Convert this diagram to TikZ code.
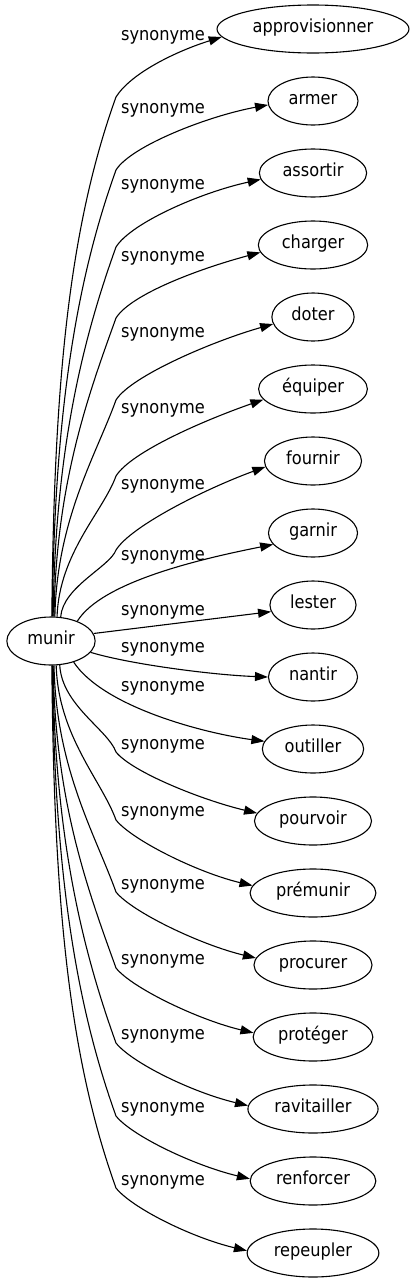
\documentclass[tikz,border=0pt]{standalone}
\usepackage{fontspec}
\setmainfont{DejaVu Sans Condensed}
\usetikzlibrary{arrows.meta, shapes.geometric}

\begin{document}
\begin{tikzpicture}[
  x=1pt, y=-1pt,
  font=\fontsize{18}{22}\selectfont,
  word/.style={draw, ellipse, line width=1.1pt, inner xsep=7.5pt,
    inner ysep=0pt, minimum height=48pt, text height=0.8em, text depth=0.15em},
  rel/.style={inner sep=0pt, text height=0.8em, text depth=0.15em},
  link/.style={line width=1.1pt, -{Triangle[length=13pt, width=9pt]}}
]
  \useasboundingbox[fill=white] (0,0) rectangle (410,1283);

  % Source word
  \node[word] (munir) at (51,641) {munir};

  % Synonyms
  \node[word] (approvisionner) at (313,29) {approvisionner};
  \node[word] (armer) at (313,101) {armer};
  \node[word] (assortir) at (313,173) {assortir};
  \node[word] (charger) at (313,245) {charger};
  \node[word] (doter) at (313,317) {doter};
  \node[word] (equiper) at (313,389) {équiper};
  \node[word] (fournir) at (313,461) {fournir};
  \node[word] (garnir) at (313,533) {garnir};
  \node[word] (lester) at (313,605) {lester};
  \node[word] (nantir) at (313,677) {nantir};
  \node[word] (outiller) at (313,749) {outiller};
  \node[word] (pourvoir) at (313,821) {pourvoir};
  \node[word] (premunir) at (313,893) {prémunir};
  \node[word] (procurer) at (313,965) {procurer};
  \node[word] (proteger) at (313,1037) {protéger};
  \node[word] (ravitailler) at (313,1109) {ravitailler};
  \node[word] (renforcer) at (313,1181) {renforcer};
  \node[word] (repeupler) at (313,1253) {repeupler};

  % Edge labels
  \foreach \i/\ly in {1/37, 2/110, 3/186, 4/258, 5/334, 6/410, 7/486, 8/557,
    9/612, 10/649, 11/688, 12/746, 13/813, 14/886, 15/961, 16/1036,
    17/1109, 18/1182} {
    \node[rel] (syn\i) at (163,\ly) {synonyme};
  }

  % Upper edges
  \foreach \tgt/\sa/\by/\ea/\dx/\dy in {approvisionner/88/97/185/-45/14,
    armer/87/170/185/-60/11, assortir/85/247/187/-60/13,
    charger/83/318/188/-60/16, doter/81/400/190/-60/17,
    equiper/76/476/192/-60/21, fournir/68/550/187/-60/22} {
    \pgfmathsetmacro\len{617-\by}
    \draw[link] (munir.\sa) .. controls +(2,{-0.45*\len})
      and +({-0.09*\len},{0.25*\len}) .. (116,\by)
      .. controls +(15,-24) and +(\dx,\dy) .. (\tgt.\ea);
  }

  % Middle edges
  \draw[link] (munir.37) .. controls +(25,-40) and +(-70,14) .. (garnir.196);
  \draw[link] (munir.10) -- (lester.189);
  \draw[link] (munir.344) .. controls +(40,12) and +(-55,-2) .. (nantir.180);
  \draw[link] (munir.317) .. controls +(30,45) and +(-60,-8) .. (outiller.171);

  % Lower edges
  \foreach \tgt/\sa/\by/\ea in {pourvoir/290/752/172, premunir/282/820/173,
    procurer/277/892/173, proteger/275/968/176, ravitailler/274/1043/177,
    renforcer/273/1116/178, repeupler/272/1188/178} {
    \pgfmathsetmacro\len{\by-663}
    \draw[link] (munir.\sa) .. controls +(2,{0.45*\len})
      and +({-0.09*\len},{-0.25*\len}) .. (116,\by)
      .. controls +(16,20) and +(-55,-13) .. (\tgt.\ea);
  }
\end{tikzpicture}
\end{document}
